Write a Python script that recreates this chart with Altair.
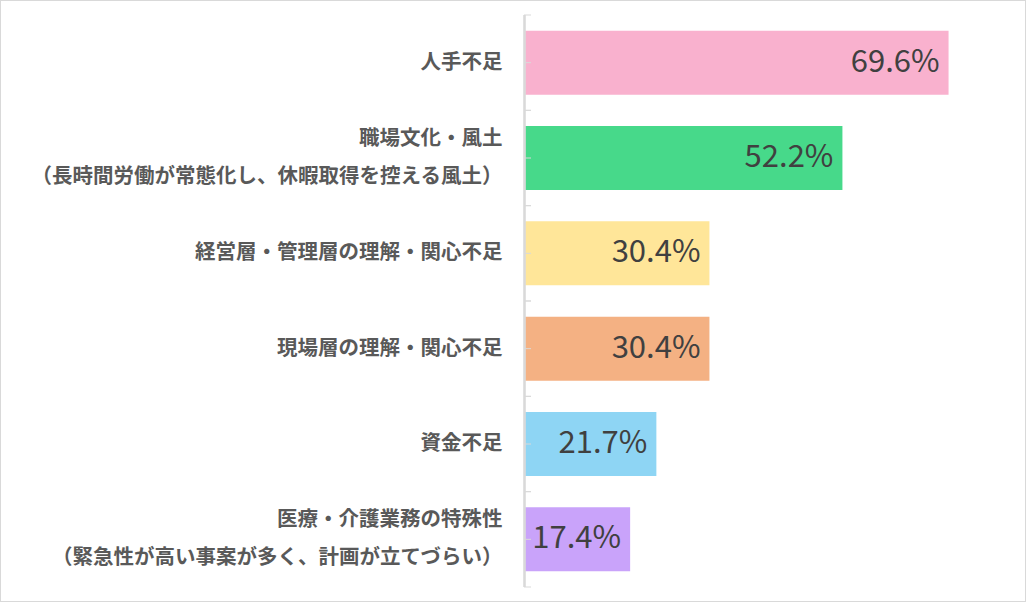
import altair as alt
import pandas as pd

categories = [
    "人手不足",
    "職場文化・風土\n（長時間労働が常態化し、休暇取得を控える風土）",
    "経営層・管理層の理解・関心不足",
    "現場層の理解・関心不足",
    "資金不足",
    "医療・介護業務の特殊性\n（緊急性が高い事案が多く、計画が立てづらい）",
]
values = [69.6, 52.2, 30.4, 30.4, 21.7, 17.4]
colors = ["#F9B1CE", "#47D98A", "#FFE699", "#F4B183", "#8ED5F4", "#C9A3FA"]

df = pd.DataFrame({"cat": categories, "value": values})

W, H = 488, 572
FONT = "Noto Sans CJK JP"
GRID = "#D9D9D9"

y_enc = alt.Y(
    "cat:N",
    sort=categories,
    scale=alt.Scale(paddingInner=0, paddingOuter=0),
    axis=alt.Axis(
        title=None,
        domain=False,
        ticks=False,
        labelPadding=22,
        labelFont=FONT,
        labelFontSize=20.5,
        labelFontWeight="bold",
        labelColor="#595959",
        labelLineHeight=38,
        labelLimit=600,
        labelOffset={"condition": {"test": "indexof(datum.label, '\\n') >= 0", "value": -19}, "value": 0},
        labelExpr="split(datum.label, '\\n')",
    ),
)

base = alt.Chart(df)

bars = base.mark_bar(size=64).encode(
    y=y_enc,
    x=alt.X("value:Q", scale=alt.Scale(domain=[0, 80]), axis=None),
    color=alt.Color("cat:N", scale=alt.Scale(domain=categories, range=colors), legend=None),
)

text = base.transform_calculate(
    lbl="format(datum.value, '.1f') + '%'"
).mark_text(align="right", baseline="middle", dx=-9, font=FONT, fontSize=31, color="#404040").encode(
    y=alt.Y("cat:N", sort=categories),
    x=alt.X("value:Q"),
    text="lbl:N",
)

tick_c = base.mark_rule(color=GRID, strokeWidth=1).encode(
    y=alt.Y("cat:N", sort=categories), x=alt.value(0), x2=alt.value(7)
)
tick_a = base.mark_rule(color=GRID, strokeWidth=1).encode(
    y=alt.Y("cat:N", sort=categories, bandPosition=0), x=alt.value(0), x2=alt.value(7)
)
tick_b = base.mark_rule(color=GRID, strokeWidth=1).encode(
    y=alt.Y("cat:N", sort=categories, bandPosition=1), x=alt.value(0), x2=alt.value(7)
)
domain = base.mark_rule(color=GRID, strokeWidth=1.5).encode(
    x=alt.value(0.5), y=alt.value(0), y2=alt.value(H)
)
border = base.mark_rect(fill="transparent", stroke=GRID, strokeWidth=1).encode(
    x=alt.value(-523.5), x2=alt.value(501.5), y=alt.value(-14.5), y2=alt.value(586.5)
)

chart = (
    alt.layer(border, bars, domain, tick_a, tick_b, tick_c, text)
    .properties(
        width=W,
        height=H,
        padding={"left": 524, "top": 15, "right": 17, "bottom": 16},
        autosize=alt.AutoSizeParams(type="none"),
        background="white",
    )
    .configure_view(stroke=None)
)

chart.save("out.html", embed_options={"renderer": "svg", "actions": False})
